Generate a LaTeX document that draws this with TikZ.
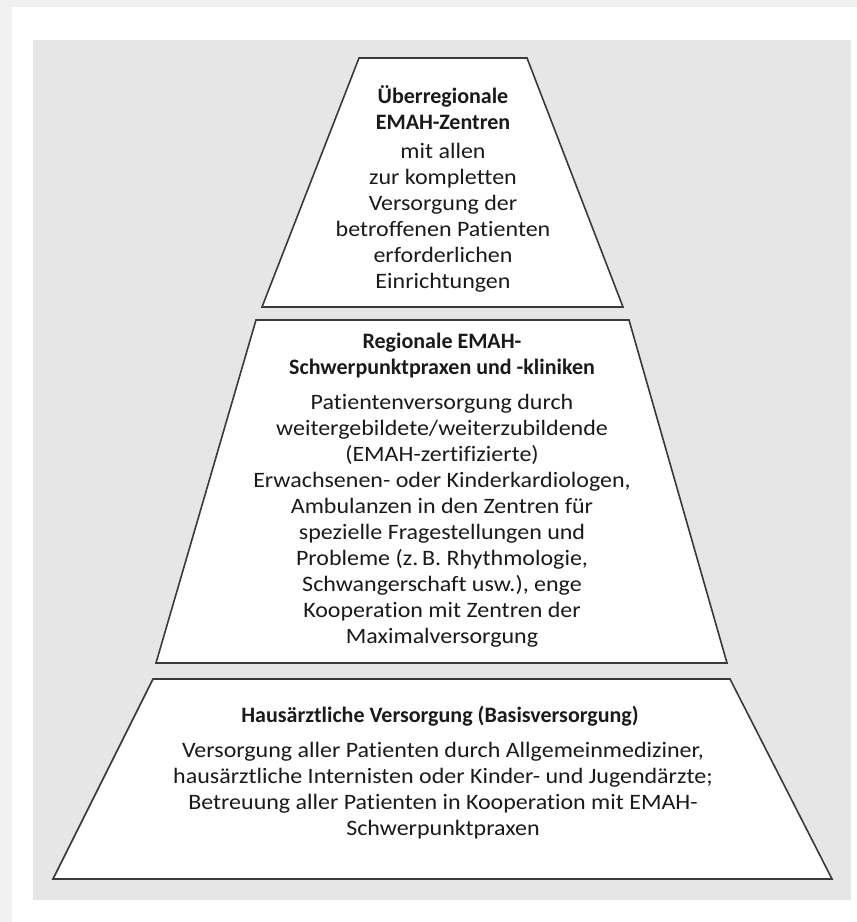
\documentclass[tikz,border=0pt]{standalone}
\usepackage{fontspec}
\setmainfont{Carlito}[FakeStretch=1.09, Ligatures=NoCommon]
\newfontfamily\kopffont{Carlito}[Ligatures=NoCommon]

\definecolor{panelgray}{HTML}{E6E6E6}
\definecolor{edgegray}{HTML}{3A3A3A}
\definecolor{textgray}{HTML}{1A1A1A}

\tikzset{
  stufe/.style={draw=edgegray, fill=white, line width=1.6pt, line join=miter},
  kopf/.style={align=center, inner sep=0pt, text=textgray,
    font=\kopffont\fontsize{22}{26}\selectfont\bfseries},
  rumpf/.style={align=center, inner sep=0pt, text=textgray,
    font=\fontsize{22}{26}\selectfont},
}

\begin{document}
\begin{tikzpicture}[x=1pt, y=-1pt]
\useasboundingbox (0,0) rectangle (857,922);
\fill[black!6] (0,0) rectangle (857,922);
\fill[white] (12,7) rectangle (857,922);
\fill[panelgray] (33,40) rectangle (851,900);

% Spitze
\draw[stufe] (359,58) -- (527,58) -- (623,307) -- (262,307) -- cycle;
\node[kopf] (ueberTitel) at (443,107.5) {Überregionale\\EMAH-Zentren};
\node[rumpf] (ueberText) at (443,218)
  {mit allen\\zur kompletten\\Versorgung der\\betroffenen Patienten\\erforderlichen\\Einrichtungen};

% Mitte
\draw[stufe] (256,320) -- (629,320) -- (727,663) -- (156,663) -- cycle;
\node[kopf] (regioTitel) at (442,356) {Regionale EMAH-\\Schwerpunktpraxen und -kliniken};
\node[rumpf] (regioText) at (442,521)
  {Patientenversorgung durch\\weitergebildete/weiterzubildende\\(EMAH-zertifizierte)\\
   Erwachsenen- oder Kinderkardiologen,\\Ambulanzen in den Zentren für\\
   spezielle Fragestellungen und\\Probleme (z.\,B. Rhythmologie,\\
   Schwangerschaft usw.), enge\\Kooperation mit Zentren der\\Maximalversorgung};

% Basis
\draw[stufe] (153,679) -- (730,679) -- (832,879) -- (53,879) -- cycle;
\node[kopf] (basisTitel) at (440,716) {Hausärztliche Versorgung (Basisversorgung)};
\node[rumpf] (basisText) at (443,791)
  {Versorgung aller Patienten durch Allgemeinmediziner,\\
   hausärztliche Internisten oder Kinder- und Jugendärzte;\\
   Betreuung aller Patienten in Kooperation mit EMAH-\\Schwerpunktpraxen};

\end{tikzpicture}
\end{document}
